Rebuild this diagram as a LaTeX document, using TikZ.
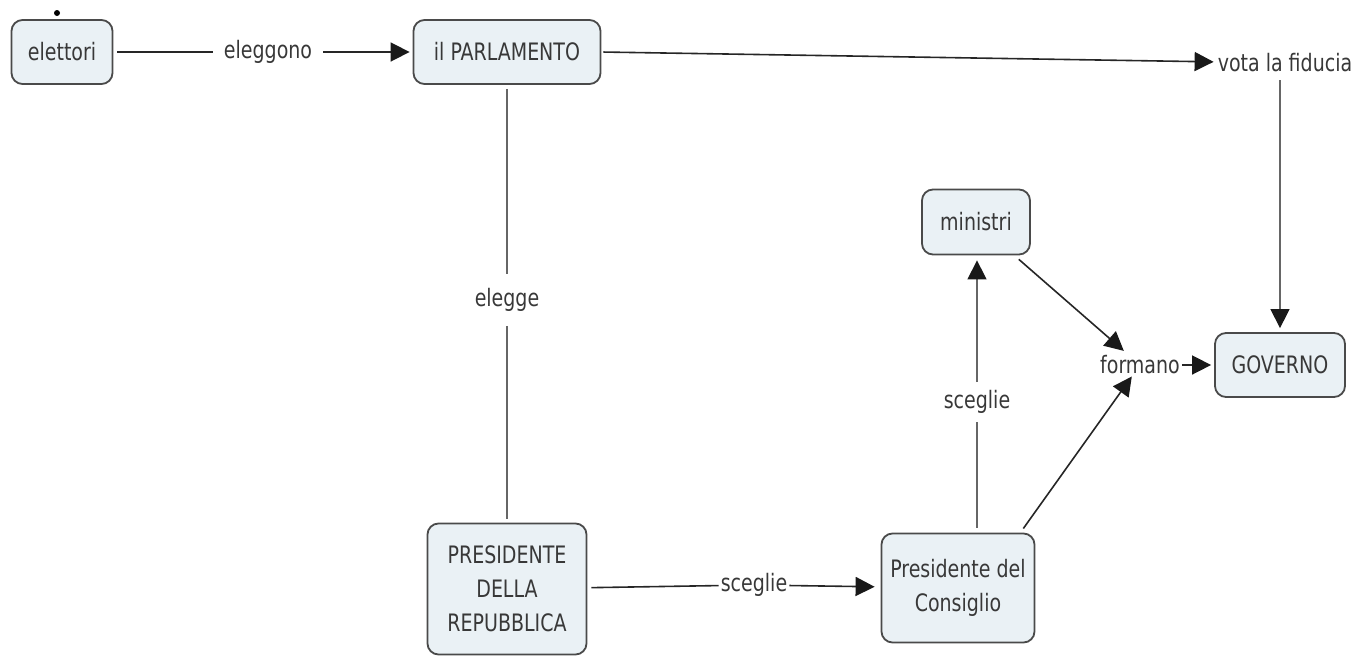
\documentclass[tikz,border=0pt]{standalone}
\usepackage{fontspec}
\setmainfont[FakeStretch=0.88]{DejaVu Sans Condensed}
\usetikzlibrary{arrows.meta}
\definecolor{boxfill}{HTML}{EAF1F5}
\definecolor{boxline}{HTML}{4A4A4A}
\definecolor{txt}{HTML}{383838}
\begin{document}
\begin{tikzpicture}[x=1pt,y=-1pt,
  concept/.style={draw=boxline,line width=1.8pt,fill=boxfill,rounded corners=11pt,
    inner sep=0pt,text=txt,font=\fontsize{24}{34}\selectfont,align=center},
  phrase/.style={inner sep=4pt,text=txt,font=\fontsize{24}{28}\selectfont},
  link/.style={draw=black!85,line width=1.6pt},
  thin/.style={draw=black!60,line width=1.4pt},
  arrow/.style={link,-{Triangle[length=19pt,width=19pt,color=black!90,fill=black!90]}}]
\useasboundingbox (0,0) rectangle (1363,656);
\fill (57,13) circle (3pt);
\node[concept,minimum width=101pt,minimum height=64pt] (el) at (62,52) {elettori};
\node[concept,minimum width=187pt,minimum height=64pt] (parl) at (507,52) {il PARLAMENTO};
\node[phrase] (vota) at (1285,63) {vota la fiducia};
\node[concept,minimum width=130pt,minimum height=64pt] (gov) at (1280,365) {GOVERNO};
\node[concept,minimum width=108pt,minimum height=65pt] (min) at (976,222) {ministri};
\node[phrase,inner sep=2pt] (form) at (1140,365) {formano};
\node[concept,minimum width=153pt,minimum height=109pt] (pdc) at (958,588) {Presidente del\\Consiglio};
\node[concept,minimum width=159pt,minimum height=131pt] (pdr) at (507,589) {PRESIDENTE\\DELLA\\REPUBBLICA};
\node[phrase,inner sep=14pt] (elegge) at (507,300) {elegge};
\node[phrase,inner sep=2pt] (sc1) at (754,585) {sceglie};
\node[phrase,inner sep=8pt] (sc2) at (977,402) {sceglie};
\node[phrase,inner sep=11pt] (eleg) at (268,52) {eleggono};
% connectors
\draw[link,shorten <=4pt] (el) -- (eleg);
\draw[arrow,shorten >=3pt] (eleg) -- (parl);
\draw[arrow,shorten <=2pt] (parl.east) -- (vota);
\draw[arrow,thin,shorten <=4pt,shorten >=4pt] (vota.south -| gov.north) -- (gov.north);
\draw[thin,shorten <=4pt] (parl) -- (elegge);
\draw[thin,shorten >=4pt] (elegge) -- (pdr);
\draw[link,shorten <=4pt] (pdr) -- (sc1);
\draw[arrow,shorten >=6pt] (sc1) -- (pdc);
\draw[thin,shorten <=5pt] (sc2 |- pdc.north) -- (sc2);
\draw[arrow,thin,shorten >=5pt] (sc2) -- (sc2 |- min.south);
\draw[arrow,shorten <=6pt,shorten >=4pt] (min) -- (form);
\draw[arrow,shorten <=5pt] ([xshift=-15pt]pdc.north east) -- (form);
\draw[arrow,shorten >=3pt] (form) -- (gov);
\end{tikzpicture}
\end{document}
